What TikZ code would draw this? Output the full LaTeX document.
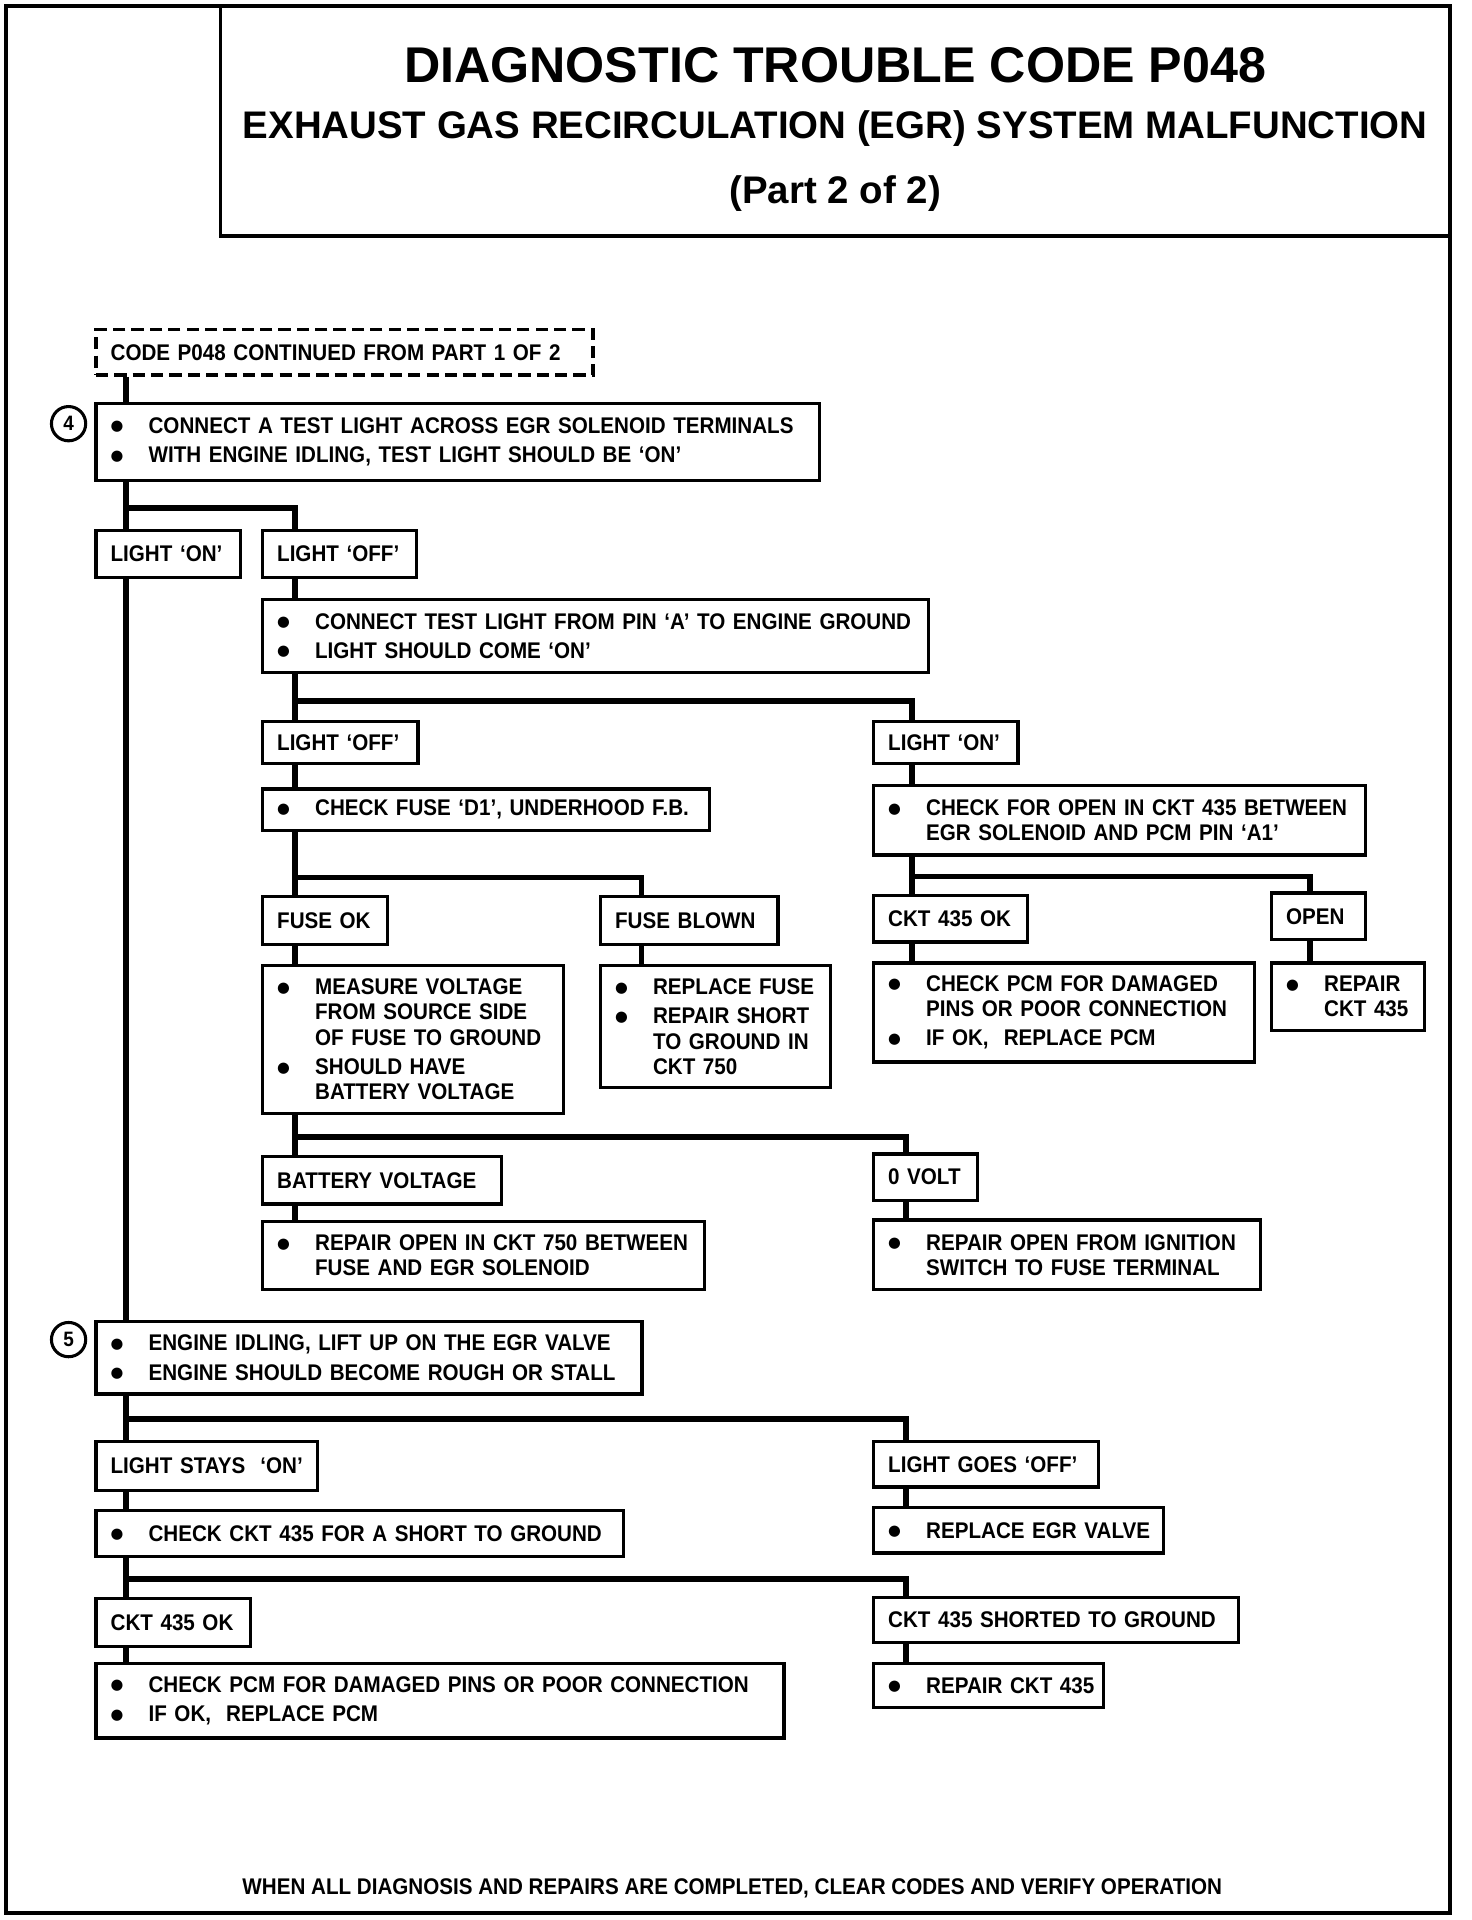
\documentclass[tikz,border=0pt]{standalone}
\usepackage{fontspec}
\setmainfont{Liberation Sans}
\newfontfamily\narrowfont{Liberation Sans}[Ligatures=TeX, FakeStretch=0.91]
\newfontfamily\symfont{DejaVu Sans}
\usepackage{tikz}
\newcommand{\bitem}{\makebox[31pt][l]{\raisebox{2pt}{\symfont\fontsize{12}{12}\selectfont ●}}}
\newcommand{\bcont}{\hspace*{31pt}}

\begin{document}
\begin{tikzpicture}[x=1pt, y=-1pt,
  box/.style={draw, line width=2.7pt, anchor=north west, align=left, inner xsep=12pt, inner ysep=0pt, font=\narrowfont\bfseries\fontsize{18.5}{20.5}\selectfont,
    execute at begin node={\rightskip=0pt plus 2em minus 20pt\hyphenpenalty=10000}},
  wire/.style={line width=4.6pt},
  frame/.style={line width=3pt}]
  \useasboundingbox (0,0) rectangle (1202,1568);
  \draw[frame] (5,5) rectangle (1184,1562);
  \draw[frame] (180,5) rectangle (1184,193);
  \node[font=\bfseries\fontsize{41}{41}\selectfont] (title) at (682,53) {DIAGNOSTIC TROUBLE CODE P048};
  \node[font=\bfseries\fontsize{31.4}{32}\selectfont] (subtitle) at (682,105) {EXHAUST GAS RECIRCULATION (EGR) SYSTEM MALFUNCTION};
  \node[font=\bfseries\fontsize{31.4}{32}\selectfont] (part) at (682,158) {(Part 2 of 2)};

  \node[box, dash pattern=on 10pt off 5pt, text width=382pt, minimum height=37pt] (cont) at (77,268) {CODE P048 CONTINUED FROM PART 1 OF 2};
  \node[box, text width=567pt, minimum height=63pt] (step4) at (77,328) {\bitem CONNECT A TEST LIGHT ACROSS EGR SOLENOID TERMINALS\\[3.5pt] \bitem WITH ENGINE IDLING, TEST LIGHT SHOULD BE `ON'};
  \node[draw, circle, line width=2.5pt, minimum size=28pt, inner sep=0pt, font=\narrowfont\bfseries\fontsize{17}{17}\selectfont] (num4) at (56,346) {4};
  \node[box, text width=94pt, minimum height=38pt] (onA) at (77,432) {LIGHT `ON'};
  \node[box, text width=102pt, minimum height=38pt] (offA) at (213,432) {LIGHT `OFF'};
  \node[box, text width=520pt, minimum height=60pt] (pinA) at (213,488) {\bitem CONNECT TEST LIGHT FROM PIN `A' TO ENGINE GROUND\\[3.5pt] \bitem LIGHT SHOULD COME `ON'};
  \node[box, text width=103pt, minimum height=34pt] (offB) at (213,588) {LIGHT `OFF'};
  \node[box, text width=94pt, minimum height=34pt] (onB) at (712,588) {LIGHT `ON'};
  \node[box, text width=341pt, minimum height=34pt] (fuse) at (213,643) {\bitem CHECK FUSE `D1', UNDERHOOD F.B.};
  \node[box, text width=378pt, minimum height=57pt] (open435) at (712,640) {\bitem CHECK FOR OPEN IN CKT 435 BETWEEN\\ \bcont EGR SOLENOID AND PCM PIN `A1'};
  \node[box, text width=78pt, minimum height=39pt] (fuseok) at (213,731) {FUSE OK};
  \node[box, text width=121pt, minimum height=39pt] (blown) at (489,731) {FUSE BLOWN};
  \node[box, text width=102pt, minimum height=38pt] (ok435A) at (712,730) {CKT 435 OK};
  \node[box, text width=53pt, minimum height=38pt] (openA) at (1037,728) {OPEN};
  \node[box, text width=222pt, minimum height=121pt] (measure) at (213,787) {\bitem MEASURE VOLTAGE\\ \bcont FROM SOURCE SIDE\\ \bcont OF FUSE TO GROUND\\[3.5pt] \bitem SHOULD HAVE\\ \bcont BATTERY VOLTAGE};
  \node[box, text width=164pt, minimum height=100pt] (replace) at (489,787) {\bitem REPLACE FUSE\\[3.5pt] \bitem REPAIR SHORT\\ \bcont TO GROUND IN\\ \bcont CKT 750};
  \node[box, text width=287pt, minimum height=81pt] (pcmA) at (712,785) {\bitem CHECK PCM FOR DAMAGED\\ \bcont PINS OR POOR CONNECTION\\[3.5pt] \bitem IF OK,~ REPLACE PCM};
  \node[box, text width=101pt, minimum height=55pt] (repairA) at (1037,785) {\bitem REPAIR\\ \bcont CKT 435};
  \node[box, text width=171pt, minimum height=39pt] (batt) at (213,943) {BATTERY VOLTAGE};
  \node[box, text width=61pt, minimum height=38pt] (zero) at (712,941) {0 VOLT};
  \node[box, text width=337pt, minimum height=56pt] (rep750) at (213,996) {\bitem REPAIR OPEN IN CKT 750 BETWEEN\\ \bcont FUSE AND EGR SOLENOID};
  \node[box, text width=292pt, minimum height=57pt] (ign) at (712,995) {\bitem REPAIR OPEN FROM IGNITION\\ \bcont SWITCH TO FUSE TERMINAL};
  \node[box, text width=422pt, minimum height=59pt] (step5) at (77,1078) {\bitem ENGINE IDLING, LIFT UP ON THE EGR VALVE\\[3.5pt] \bitem ENGINE SHOULD BECOME ROUGH OR STALL};
  \node[draw, circle, line width=2.5pt, minimum size=28pt, inner sep=0pt, font=\narrowfont\bfseries\fontsize{17}{17}\selectfont] (num5) at (56,1094) {5};
  \node[box, text width=157pt, minimum height=40pt] (stays) at (77,1176) {LIGHT STAYS~ `ON'};
  \node[box, text width=160pt, minimum height=37pt] (goes) at (712,1176) {LIGHT GOES `OFF'};
  \node[box, text width=407pt, minimum height=38pt] (chk435) at (77,1232) {\bitem CHECK CKT 435 FOR A SHORT TO GROUND};
  \node[box, text width=213pt, minimum height=37pt] (egr) at (712,1230) {\bitem REPLACE EGR VALVE};
  \node[box, text width=102pt, minimum height=39pt] (ok435B) at (77,1304) {CKT 435 OK};
  \node[box, text width=274pt, minimum height=37pt] (short) at (712,1303) {CKT 435 SHORTED TO GROUND};
  \node[box, text width=538pt, minimum height=61pt] (pcmB) at (77,1357) {\bitem CHECK PCM FOR DAMAGED PINS OR POOR CONNECTION\\[3.5pt] \bitem IF OK,~ REPLACE PCM};
  \node[box, text width=164pt, minimum height=36pt] (repairB) at (712,1357) {\bitem REPAIR CKT 435};
  \node[font=\narrowfont\bfseries\fontsize{18.5}{18.5}\selectfont] (note) at (598,1542) {WHEN ALL DIAGNOSIS AND REPAIRS ARE COMPLETED, CLEAR CODES AND VERIFY OPERATION};

  \draw[wire] ([xshift=26pt]cont.south west) -- ([xshift=26pt]step4.north west);
  \draw[wire] ([xshift=26pt]step4.south west) -- ([xshift=26pt]onA.north west);
  \draw[wire] ([xshift=26pt]step4.south west) -- ++(0,21) -| ([xshift=28pt]offA.north west);
  \draw[wire] ([xshift=26pt]onA.south west) -- ([xshift=26pt]step5.north west);
  \draw[wire] ([xshift=28pt]offA.south west) -- ([xshift=28pt]pinA.north west);
  \draw[wire] ([xshift=28pt]pinA.south west) -- ([xshift=28pt]offB.north west);
  \draw[wire] ([xshift=28pt]pinA.south west) -- ++(0,22) -| ([xshift=33pt]onB.north west);
  \draw[wire] ([xshift=28pt]offB.south west) -- ([xshift=28pt]fuse.north west);
  \draw[wire] ([xshift=33pt]onB.south west) -- ([xshift=33pt]open435.north west);
  \draw[wire] ([xshift=28pt]fuse.south west) -- ([xshift=28pt]fuseok.north west);
  \draw[wire] ([xshift=28pt]fuse.south west) -- ++(0,37) -| ([xshift=35pt]blown.north west);
  \draw[wire] ([xshift=33pt]open435.south west) -- ([xshift=33pt]ok435A.north west);
  \draw[wire] ([xshift=33pt]open435.south west) -- ++(0,16) -| ([xshift=33pt]openA.north west);
  \draw[wire] ([xshift=28pt]fuseok.south west) -- ([xshift=28pt]measure.north west);
  \draw[wire] ([xshift=35pt]blown.south west) -- ([xshift=35pt]replace.north west);
  \draw[wire] ([xshift=33pt]ok435A.south west) -- ([xshift=33pt]pcmA.north west);
  \draw[wire] ([xshift=33pt]openA.south west) -- ([xshift=33pt]repairA.north west);
  \draw[wire] ([xshift=28pt]measure.south west) -- ([xshift=28pt]batt.north west);
  \draw[wire] ([xshift=28pt]measure.south west) -- ++(0,18) -| ([xshift=28pt]zero.north west);
  \draw[wire] ([xshift=28pt]batt.south west) -- ([xshift=28pt]rep750.north west);
  \draw[wire] ([xshift=28pt]zero.south west) -- ([xshift=28pt]ign.north west);
  \draw[wire] ([xshift=26pt]step5.south west) -- ([xshift=26pt]stays.north west);
  \draw[wire] ([xshift=26pt]step5.south west) -- ++(0,19) -| ([xshift=28pt]goes.north west);
  \draw[wire] ([xshift=26pt]stays.south west) -- ([xshift=26pt]chk435.north west);
  \draw[wire] ([xshift=28pt]goes.south west) -- ([xshift=28pt]egr.north west);
  \draw[wire] ([xshift=26pt]chk435.south west) -- ([xshift=26pt]ok435B.north west);
  \draw[wire] ([xshift=26pt]chk435.south west) -- ++(0,17) -| ([xshift=28pt]short.north west);
  \draw[wire] ([xshift=26pt]ok435B.south west) -- ([xshift=26pt]pcmB.north west);
  \draw[wire] ([xshift=28pt]short.south west) -- ([xshift=28pt]repairB.north west);
\end{tikzpicture}
\end{document}
